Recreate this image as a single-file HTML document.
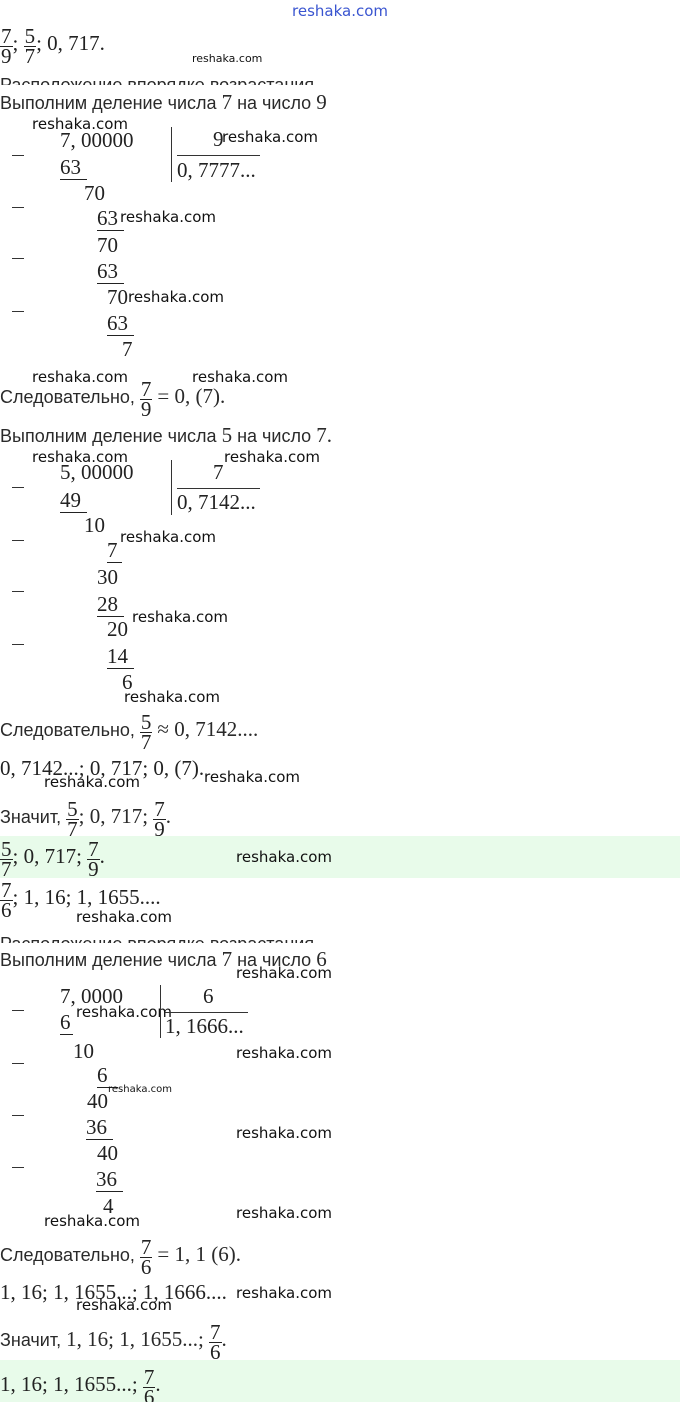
<!DOCTYPE html>
<html><head><meta charset="utf-8"><style>
body{margin:0;width:680px;height:1402px;position:relative;background:#fff;overflow:hidden;color:#222}
.a{position:absolute;white-space:nowrap}
.s{font-family:"Liberation Serif",serif;font-size:21px;line-height:20px}
.r{font-family:"Liberation Sans",sans-serif;font-size:18px;line-height:20px;color:#2a2a2a}
.w{font-family:"DejaVu Sans","Liberation Sans",sans-serif;font-size:15px;line-height:16px;color:#111}
.ws{font-family:"DejaVu Sans",sans-serif;font-size:10px;line-height:12px;color:#111}
.u{border-bottom:1px solid #222;padding-right:6px}
.f{display:inline-flex;flex-direction:column;align-items:center;vertical-align:7px;line-height:18px;font-family:"Liberation Serif",serif;font-size:21px;color:#222}
.f span:first-child{border-bottom:1px solid #222;padding:0 1px 1px}
.m{position:absolute;left:12px;width:12px;height:1px;background:#333}
.g{position:absolute;left:0;width:680px;background:#e8fbea;overflow:hidden}
</style></head><body>
<div class="a" style="left:292px;top:2px;font-family:'DejaVu Sans',sans-serif;font-size:15px;color:#3a55d0">reshaka.com</div>

<div class="a s" style="left:0;top:27px"><span class="f"><span>7</span><span>9</span></span>; <span class="f"><span>5</span><span>7</span></span>; 0, 717.</div>
<div class="a ws" style="left:192px;top:53px;font-size:11px">reshaka.com</div>
<div class="a" style="left:0;top:75px;height:10px;overflow:hidden"><div class="r" style="margin-top:0">Расположение впорядке возрастания</div></div>
<div class="a r" style="left:0;top:92px">Выполним деление числа <span class="s">7</span> на число <span class="s">9</span></div>

<div class="a w" style="left:32px;top:116px">reshaka.com</div>
<div class="a s" style="left:60px;top:130px">7, 00000</div>
<div class="m" style="top:155px"></div>
<div class="a s" style="left:60px;top:157px"><span class="u">63</span></div>
<div class="a" style="left:171px;top:127px;width:1px;height:55px;background:#333"></div>
<div class="a s" style="left:213px;top:129px">9</div>
<div class="a w" style="left:222px;top:129px">reshaka.com</div>
<div class="a" style="left:177px;top:155px;width:83px;height:1px;background:#333"></div>
<div class="a s" style="left:177px;top:160px">0, 7777...</div>
<div class="a s" style="left:84px;top:183px">70</div>
<div class="m" style="top:207px"></div>
<div class="a s" style="left:97px;top:208px"><span class="u">63</span></div>
<div class="a w" style="left:120px;top:209px">reshaka.com</div>
<div class="a s" style="left:97px;top:235px">70</div>
<div class="m" style="top:258px"></div>
<div class="a s" style="left:97px;top:261px"><span class="u">63</span></div>
<div class="a s" style="left:107px;top:287px">70</div>
<div class="a w" style="left:128px;top:289px">reshaka.com</div>
<div class="m" style="top:311px"></div>
<div class="a s" style="left:107px;top:313px"><span class="u">63</span></div>
<div class="a s" style="left:122px;top:339px">7</div>

<div class="a w" style="left:32px;top:369px">reshaka.com</div>
<div class="a w" style="left:192px;top:369px">reshaka.com</div>
<div class="a r" style="left:0;top:380px">Следовательно, <span class="f"><span>7</span><span>9</span></span> <span class="s">= 0, (7).</span></div>
<div class="a r" style="left:0;top:425px">Выполним деление числа <span class="s">5</span> на число <span class="s">7.</span></div>

<div class="a w" style="left:32px;top:449px">reshaka.com</div>
<div class="a w" style="left:224px;top:449px">reshaka.com</div>
<div class="a s" style="left:60px;top:462px">5, 00000</div>
<div class="m" style="top:487px"></div>
<div class="a s" style="left:60px;top:490px"><span class="u">49</span></div>
<div class="a" style="left:171px;top:460px;width:1px;height:55px;background:#333"></div>
<div class="a s" style="left:213px;top:462px">7</div>
<div class="a" style="left:177px;top:488px;width:83px;height:1px;background:#333"></div>
<div class="a s" style="left:177px;top:492px">0, 7142...</div>
<div class="a s" style="left:84px;top:515px">10</div>
<div class="m" style="top:540px"></div>
<div class="a s" style="left:107px;top:540px"><span class="u" style="padding-right:4px">7</span></div>
<div class="a w" style="left:120px;top:529px">reshaka.com</div>
<div class="a s" style="left:97px;top:567px">30</div>
<div class="m" style="top:591px"></div>
<div class="a s" style="left:97px;top:594px"><span class="u">28</span></div>
<div class="a w" style="left:132px;top:609px">reshaka.com</div>
<div class="a s" style="left:107px;top:619px">20</div>
<div class="m" style="top:644px"></div>
<div class="a s" style="left:107px;top:646px"><span class="u">14</span></div>
<div class="a s" style="left:122px;top:672px">6</div>
<div class="a w" style="left:124px;top:689px">reshaka.com</div>

<div class="a r" style="left:0;top:713px">Следовательно, <span class="f"><span>5</span><span>7</span></span> <span class="s">≈ 0, 7142....</span></div>
<div class="a s" style="left:0;top:758px">0, 7142...; 0, 717; 0, (7).</div>
<div class="a w" style="left:44px;top:774px">reshaka.com</div>
<div class="a w" style="left:204px;top:769px">reshaka.com</div>
<div class="a r" style="left:0;top:800px">Значит, <span class="f"><span>5</span><span>7</span></span><span class="s">; 0, 717; </span><span class="f"><span>7</span><span>9</span></span><span class="s">.</span></div>

<div class="g" style="top:836px;height:42px"><div class="a s" style="left:0;top:4px"><span class="f"><span>5</span><span>7</span></span>; 0, 717; <span class="f"><span>7</span><span>9</span></span>.</div><div class="a w" style="left:236px;top:13px">reshaka.com</div></div>
<div class="a s" style="left:0;top:881px"><span class="f"><span>7</span><span>6</span></span>; 1, 16; 1, 1655....</div>
<div class="a w" style="left:76px;top:909px">reshaka.com</div>
<div class="a" style="left:0;top:934px;height:9px;overflow:hidden"><div class="r">Расположение впорядке возрастания</div></div>
<div class="a r" style="left:0;top:949px">Выполним деление числа <span class="s">7</span> на число <span class="s">6</span></div>
<div class="a w" style="left:236px;top:965px">reshaka.com</div>

<div class="a s" style="left:60px;top:986px">7, 0000</div>
<div class="m" style="top:1010px"></div>
<div class="a s" style="left:60px;top:1012px"><span class="u" style="padding-right:2px">6</span></div>
<div class="a w" style="left:76px;top:1004px">reshaka.com</div>
<div class="a" style="left:160px;top:985px;width:1px;height:53px;background:#333"></div>
<div class="a s" style="left:203px;top:986px">6</div>
<div class="a" style="left:165px;top:1012px;width:83px;height:1px;background:#333"></div>
<div class="a s" style="left:165px;top:1016px">1, 1666...</div>
<div class="a s" style="left:73px;top:1041px">10</div>
<div class="a w" style="left:236px;top:1045px">reshaka.com</div>
<div class="m" style="top:1063px"></div>
<div class="a s" style="left:97px;top:1065px"><span class="u" style="padding-right:10px">6</span></div>
<div class="a ws" style="left:108px;top:1084px">reshaka.com</div>
<div class="a s" style="left:87px;top:1091px">40</div>
<div class="m" style="top:1115px"></div>
<div class="a s" style="left:86px;top:1117px"><span class="u">36</span></div>
<div class="a w" style="left:236px;top:1125px">reshaka.com</div>
<div class="a s" style="left:97px;top:1143px">40</div>
<div class="m" style="top:1167px"></div>
<div class="a s" style="left:96px;top:1169px"><span class="u">36</span></div>
<div class="a s" style="left:103px;top:1196px">4</div>
<div class="a w" style="left:44px;top:1213px">reshaka.com</div>
<div class="a w" style="left:236px;top:1205px">reshaka.com</div>

<div class="a r" style="left:0;top:1238px">Следовательно, <span class="f"><span>7</span><span>6</span></span> <span class="s">= 1, 1 (6).</span></div>
<div class="a s" style="left:0;top:1282px">1, 16; 1, 1655...; 1, 1666....</div>
<div class="a w" style="left:236px;top:1285px">reshaka.com</div>
<div class="a w" style="left:76px;top:1297px">reshaka.com</div>
<div class="a r" style="left:0;top:1323px">Значит, <span class="s">1, 16; 1, 1655...; </span><span class="f"><span>7</span><span>6</span></span><span class="s">.</span></div>

<div class="g" style="top:1360px;height:42px"><div class="a s" style="left:0;top:8px">1, 16; 1, 1655...; <span class="f"><span>7</span><span>6</span></span>.</div></div>
</body></html>
